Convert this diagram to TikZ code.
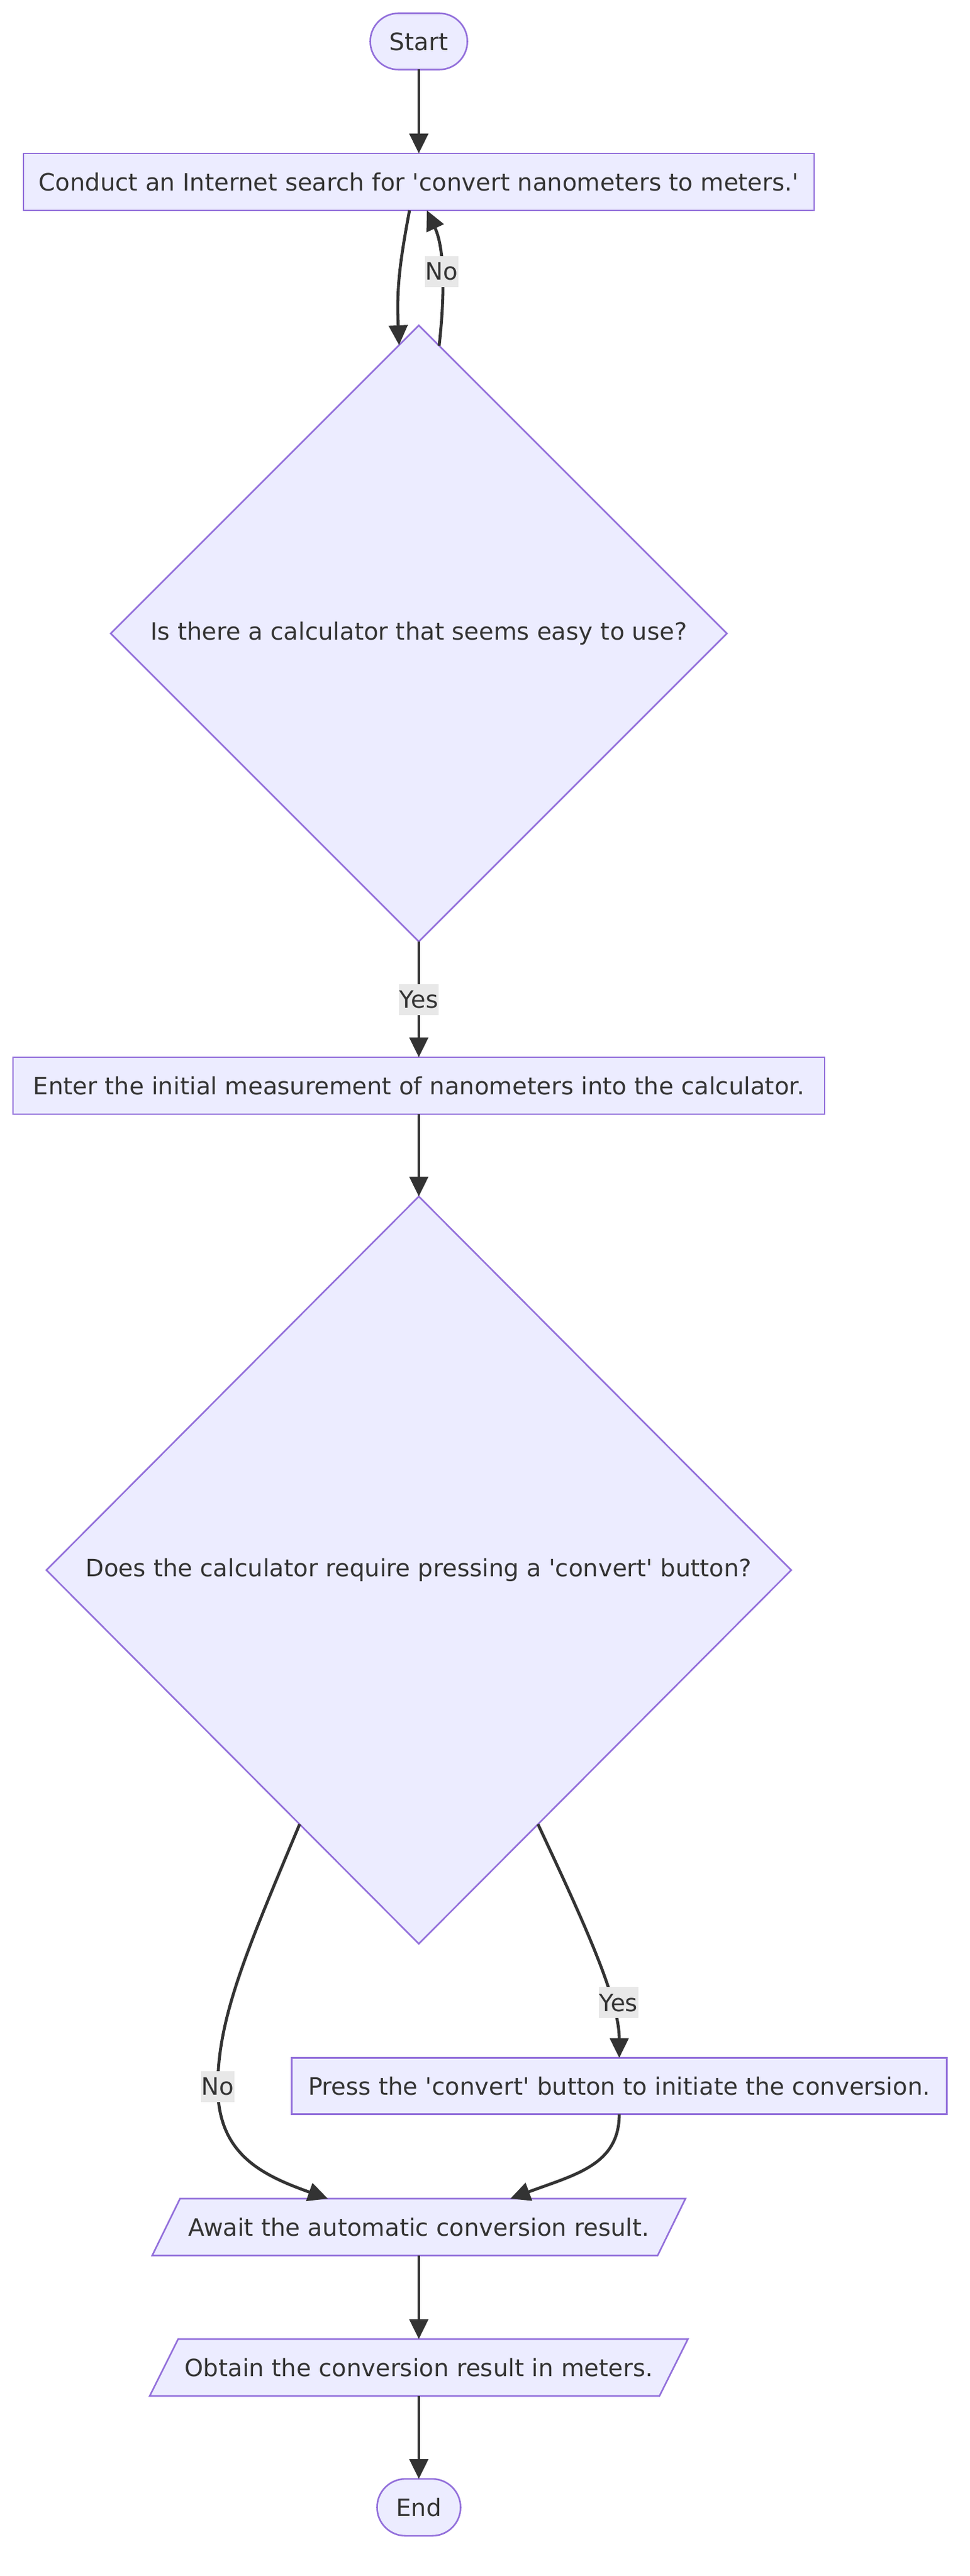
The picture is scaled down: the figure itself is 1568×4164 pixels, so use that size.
\documentclass[tikz,border=0pt]{standalone}
\usepackage{fontspec}
\setmainfont{DejaVu Sans}
\usetikzlibrary{shapes.geometric,arrows.meta,calc,backgrounds}
\definecolor{nodefill}{HTML}{ECECFF}
\definecolor{nodeline}{HTML}{9370DB}
\definecolor{edgecol}{HTML}{333333}
\definecolor{lblfill}{HTML}{E8E8E8}
\definecolor{txtcol}{HTML}{333333}
\begin{document}
\begin{tikzpicture}[x=0.5pt,y=-0.5pt,
  base/.style={font=\fontsize{19.3pt}{23pt}\selectfont, text=txtcol, outer sep=0pt, inner sep=0pt},
  box/.style={base, draw=nodeline, fill=nodefill, line width=1.3pt, rectangle},
  term/.style={box, rounded corners=22.75pt},
  dec/.style={base, draw=nodeline, fill=nodefill, line width=1.3pt, diamond},
  iobox/.style={base},
  ioshape/.style={draw=nodeline, fill=nodefill, line width=1.3pt},
  arr/.style={draw=edgecol, line width=2.4pt, -{Triangle[length=16pt,width=15pt]}},
  lbl/.style={base, fill=lblfill, inner xsep=0.5pt, minimum height=25pt}
]
\begin{scope}[on background layer]
\fill[white] (0,0) rectangle (1568,4164);
\end{scope}
\useasboundingbox (0,0) rectangle (1568,4164);

\node[term, minimum width=78.5pt, minimum height=45.5pt] (startn) at (677,67) {Start};
\node[box, minimum width=639pt, minimum height=46pt] (conduct) at (677,294) {Conduct an Internet search for \textquotesingle convert nanometers to meters.\textquotesingle};
\node[dec, minimum width=498pt, minimum height=498pt] (d1) at (677,1024) {Is there a calculator that seems easy to use?};
\node[box, minimum width=656pt, minimum height=46pt] (enter) at (677,1755) {Enter the initial measurement of nanometers into the calculator.};
\node[dec, minimum width=602pt, minimum height=604pt] (d2) at (677,2538) {Does the calculator require pressing a \textquotesingle convert\textquotesingle{} button?};
\node[box, minimum width=529.5pt, minimum height=45.5pt] (press) at (1001,3372) {Press the \textquotesingle convert\textquotesingle{} button to initiate the conversion.};
\node[iobox, minimum width=431pt, minimum height=46pt] (await) at (677,3600) {Await the automatic conversion result.};
\node[iobox, minimum width=435pt, minimum height=46pt] (obtain) at (677,3827) {Obtain the conversion result in meters.};
\node[term, minimum width=67.5pt, minimum height=46pt, rounded corners=23pt] (stopn) at (677,4053) {End};
\coordinate (nojoin) at (352,3373);

\begin{scope}[on background layer]
\draw[ioshape] ($(await.north west)+(45,0)$) -- (await.north east) -- ($(await.south east)+(-45,0)$) -- (await.south west) -- cycle;
\draw[ioshape] ($(obtain.north west)+(46,0)$) -- (obtain.north east) -- ($(obtain.south east)+(-46,0)$) -- (obtain.south west) -- cycle;
\end{scope}

\draw[arr] (startn) -- (conduct);
\draw[arr] ([xshift=-7.5pt]conduct.south) .. controls +(-17,90) and +(-4,-88) .. ($(d1.north)!0.064!(d1.west)$);
\draw[arr] ($(d1.north)!0.066!(d1.east)$) .. controls +(10,-89) and +(28,60) .. ([xshift=6.5pt]conduct.south) node[lbl,pos=0.5]{No};
\draw[arr] (d1) -- (enter) node[lbl, midway] {Yes};
\draw[arr] (enter) -- (d2);
\draw[arr] ($(d2.south)!0.32!(d2.east)$) .. controls +(70,150) and +(0,-97) .. (press.north) node[lbl, pos=0.72, xshift=6pt] {Yes};
\draw[arr] ($(d2.south)!0.32!(d2.west)$) .. controls +(-84,201) and +(0,-113) .. (nojoin) node[lbl]{No} .. controls +(0,107) and +(-110,-39) .. ([xshift=-73.5pt]await.north);
\draw[arr] (press.south) .. controls +(0,82) and +(105,-39) .. ([xshift=74pt]await.north);
\draw[arr] (await) -- (obtain);
\draw[arr] (obtain) -- (stopn);
\end{tikzpicture}
\end{document}
